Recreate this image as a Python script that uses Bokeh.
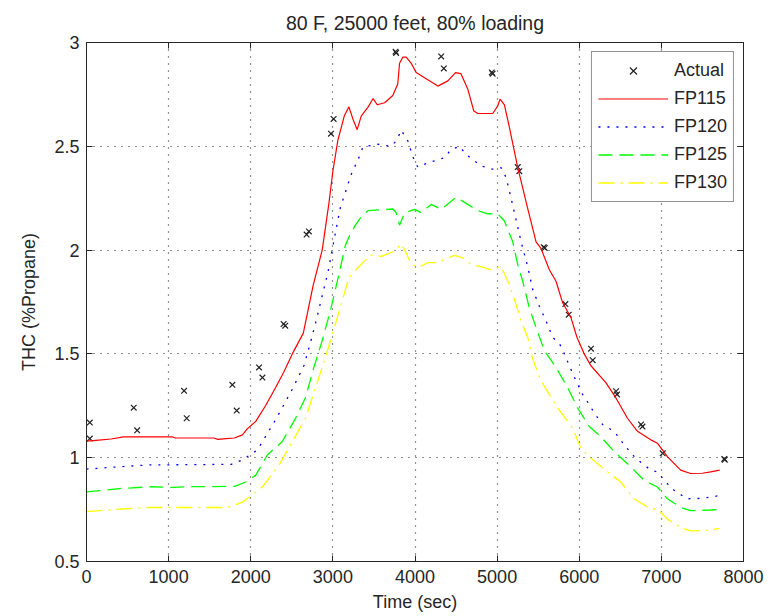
from bokeh.plotting import figure
from bokeh.models import LinearAxis, FixedTicker, Legend, LegendItem
from bokeh.embed import file_html
from bokeh.resources import INLINE

title_text = "80 F, 25000 feet, 80% loading"
x_label = "Time (sec)"
y_label = "THC (%Propane)"
x_ticks = [0, 1000, 2000, 3000, 4000, 5000, 6000, 7000, 8000]
y_ticks = [0.5, 1, 1.5, 2, 2.5, 3]
y_tick_labels = ["0.5", "1", "1.5", "2", "2.5", "3"]

act_t = [40, 40, 575, 617, 1188, 1220, 1776, 1829, 2101, 2142, 2400, 2420, 2680, 2708,
         2977, 3009, 3763, 3770, 4319, 4351, 4935, 4945, 5251, 5270, 5567, 5580,
         5831, 5872, 6143, 6164, 6448, 6460, 6752, 6770, 7016, 7766, 7772]
act_v = [1.169, 1.092, 1.241, 1.132, 1.322, 1.19, 1.351, 1.227, 1.435, 1.386, 1.644, 1.636,
         2.075, 2.09, 2.561, 2.632, 2.956, 2.95, 2.933, 2.875, 2.856, 2.85, 2.40, 2.38,
         2.014, 2.01, 1.74, 1.689, 1.525, 1.47, 1.32, 1.305, 1.16, 1.15, 1.021, 0.994, 0.99]

t115 = [0, 150, 300, 450, 1050, 1080, 1550, 1600, 1700, 1800, 1899, 1960, 2061, 2180, 2303,
        2400, 2506, 2640, 2760, 2870, 2950, 3000, 3061, 3142, 3195, 3245, 3296, 3345, 3430,
        3490, 3540, 3630, 3730, 3790, 3812, 3853, 3893, 3954, 4015, 4116, 4278, 4400, 4493,
        4560, 4643, 4716, 4765, 4947, 5008, 5036, 5089, 5150, 5250, 5360, 5474, 5534, 5636,
        5717, 5798, 5899, 5972, 6061, 6142, 6324, 6445, 6587, 6709, 6871, 6952, 7073, 7235,
        7356, 7500, 7600, 7710]
v115 = [1.08, 1.085, 1.09, 1.10, 1.10, 1.095, 1.095, 1.088, 1.092, 1.095, 1.11, 1.14, 1.175,
        1.25, 1.338, 1.41, 1.50, 1.60, 1.83, 2.00, 2.22, 2.38, 2.53, 2.65, 2.69, 2.63, 2.58,
        2.645, 2.69, 2.73, 2.70, 2.71, 2.745, 2.80, 2.90, 2.93, 2.93, 2.90, 2.855, 2.83, 2.79,
        2.815, 2.855, 2.85, 2.775, 2.67, 2.658, 2.658, 2.695, 2.727, 2.70, 2.59, 2.40, 2.22,
        2.04, 2.008, 1.905, 1.85, 1.746, 1.675, 1.58, 1.50, 1.443, 1.362, 1.289, 1.19, 1.127,
        1.086, 1.07, 1.005, 0.94, 0.924, 0.925, 0.932, 0.94]

t120 = [0, 425, 750, 1764, 1899, 2081, 2303, 2506, 2647, 2728, 2797, 2870, 2942, 2991, 3044,
        3092, 3224, 3325, 3366, 3548, 3710, 3780, 3832, 3913, 3973, 4034, 4156, 4359, 4440,
        4542, 4623, 4805, 4947, 5049, 5109, 5170, 5292, 5373, 5433, 5514, 5595, 5676, 5757,
        5798, 5879, 5960, 6041, 6122, 6182, 6284, 6425, 6547, 6688, 6871, 6952, 7053, 7154,
        7316, 7482, 7705]
v120 = [0.945, 0.957, 0.965, 0.968, 0.99, 1.037, 1.183, 1.33, 1.443, 1.556, 1.66, 1.78, 1.897,
        2.0, 2.11, 2.206, 2.365, 2.453, 2.497, 2.51, 2.50, 2.53, 2.578, 2.526, 2.45, 2.40,
        2.42, 2.445, 2.485, 2.50, 2.46, 2.405, 2.39, 2.397, 2.35, 2.25, 2.04, 1.92, 1.81, 1.73,
        1.66, 1.58, 1.55, 1.52, 1.443, 1.37, 1.305, 1.256, 1.216, 1.16, 1.127, 1.062, 0.997,
        0.94, 0.932, 0.883, 0.843, 0.802, 0.804, 0.817]

t125 = [0, 101, 425, 791, 1055, 1200, 1805, 1939, 2061, 2202, 2384, 2546, 2667, 2769, 2870,
        2971, 3072, 3153, 3204, 3274, 3345, 3427, 3589, 3731, 3771, 3812, 3873, 3994, 4075,
        4197, 4319, 4501, 4603, 4765, 4886, 5008, 5089, 5190, 5251, 5312, 5393, 5474, 5575,
        5717, 5858, 5980, 6122, 6263, 6425, 6607, 6790, 6952, 7073, 7235, 7356, 7603, 7705]
v125 = [0.835, 0.839, 0.852, 0.86, 0.857, 0.86, 0.862, 0.883, 0.916, 1.013, 1.078, 1.19, 1.29,
        1.435, 1.564, 1.71, 1.88, 2.024, 2.07, 2.12, 2.16, 2.19, 2.195, 2.198, 2.18, 2.12, 2.18,
        2.196, 2.18, 2.22, 2.196, 2.255, 2.23, 2.19, 2.175, 2.175, 2.14, 2.04, 1.93, 1.85, 1.72,
        1.627, 1.516, 1.435, 1.338, 1.24, 1.15, 1.10, 1.03, 0.964, 0.891, 0.859, 0.802, 0.761,
        0.745, 0.748, 0.751]

t130 = [0, 425, 750, 1724, 1899, 2142, 2344, 2506, 2667, 2789, 2910, 3011, 3112, 3193, 3315,
        3456, 3589, 3751, 3832, 3893, 3954, 4055, 4156, 4278, 4400, 4481, 4600, 4684, 4800,
        4927, 5049, 5150, 5231, 5292, 5373, 5433, 5534, 5737, 5919, 6020, 6142, 6344, 6506,
        6668, 6871, 6952, 7073, 7235, 7356, 7564, 7705]
v130 = [0.74, 0.753, 0.76, 0.76, 0.786, 0.859, 0.964, 1.078, 1.19, 1.338, 1.484, 1.617, 1.754,
        1.865, 1.92, 1.976, 1.97, 1.995, 2.03, 1.986, 1.93, 1.92, 1.94, 1.94, 1.962, 1.975,
        1.96, 1.93, 1.92, 1.905, 1.92, 1.833, 1.738, 1.657, 1.58, 1.476, 1.37, 1.24, 1.143,
        1.045, 0.997, 0.932, 0.883, 0.802, 0.753, 0.753, 0.704, 0.664, 0.648, 0.65, 0.66]

FONT = "Liberation Sans"
FS = "18px"
INK = "#262626"

p = figure(width=781, height=616, x_range=(0, 8000), y_range=(0.5, 3),
           output_backend="svg", toolbar_location=None,
           min_border_left=86, min_border_right=38, min_border_top=42, min_border_bottom=55)
p.background_fill_color = "white"
p.border_fill_color = "white"
p.outline_line_color = INK

p.title.text = title_text
p.title.align = "center"
p.title.text_font = FONT
p.title.text_font_size = "19.5px"
p.title.text_font_style = "normal"
p.title.text_color = INK
p.title.standoff = 17

for ax in [p.xaxis[0], p.yaxis[0]]:
    ax.major_tick_in = 6
    ax.major_tick_out = 0
    ax.minor_tick_line_color = None
    ax.axis_line_color = INK
    ax.major_tick_line_color = INK
    ax.major_label_text_font = FONT
    ax.major_label_text_font_size = FS
    ax.major_label_text_color = INK
    ax.axis_label_text_font = FONT
    ax.axis_label_text_font_size = FS
    ax.axis_label_text_font_style = "normal"
    ax.axis_label_text_color = INK

p.xaxis[0].ticker = FixedTicker(ticks=x_ticks)
p.yaxis[0].ticker = FixedTicker(ticks=y_ticks)
p.xaxis[0].major_label_overrides = {t: str(t) for t in x_ticks}
p.yaxis[0].major_label_overrides = dict(zip(y_ticks, y_tick_labels))
p.xaxis[0].axis_label = x_label
p.yaxis[0].axis_label = y_label
p.xaxis[0].major_label_standoff = 8
p.xaxis[0].axis_label_standoff = 6
p.yaxis[0].major_label_standoff = 7
p.yaxis[0].axis_label_standoff = 12

top_ax = LinearAxis(ticker=FixedTicker(ticks=x_ticks), major_tick_in=6, major_tick_out=0,
                    minor_tick_line_color=None, axis_line_color=INK, major_tick_line_color=INK,
                    major_label_text_color=None, major_label_text_alpha=0,
                    major_label_text_font_size="1px", major_label_standoff=0)
right_ax = LinearAxis(ticker=FixedTicker(ticks=y_ticks), major_tick_in=6, major_tick_out=0,
                      minor_tick_line_color=None, axis_line_color=INK, major_tick_line_color=INK,
                      major_label_text_color=None, major_label_text_alpha=0,
                      major_label_text_font_size="1px", major_label_standoff=0)
p.add_layout(top_ax, "above")
p.add_layout(right_ax, "right")

for g, ticks in ((p.xgrid[0], x_ticks), (p.ygrid[0], y_ticks)):
    g.ticker = FixedTicker(ticks=ticks)
    g.grid_line_color = "black"
    g.grid_line_dash = "1 6"
    g.grid_line_width = 1.2
    g.grid_line_alpha = 0.85

r_act = p.scatter(act_t, act_v, marker="x", size=8, line_color="#222222", line_width=1.2)
r115 = p.line(t115, v115, line_color="#ff0000", line_width=1.2)
r120 = p.line(t120, v120, line_color="#0000ff", line_width=1.3, line_dash="2 7")
r125 = p.line(t125, v125, line_color="#00ff00", line_width=1.3, line_dash="14 7")
r130 = p.line(t130, v130, line_color="#ffff00", line_width=1.3, line_dash="16 6 2 6")

legend = Legend(items=[
    LegendItem(label="Actual", renderers=[r_act]),
    LegendItem(label="FP115", renderers=[r115]),
    LegendItem(label="FP120", renderers=[r120]),
    LegendItem(label="FP125", renderers=[r125]),
    LegendItem(label="FP130", renderers=[r130]),
], location="top_right")
legend.label_text_font = FONT
legend.label_text_font_size = FS
legend.label_text_color = INK
legend.glyph_width = 70
legend.glyph_height = 25
legend.label_height = 25
legend.label_standoff = 6
legend.spacing = 3
legend.padding = 6
legend.margin = 9
legend.border_line_color = INK
legend.border_line_width = 1
legend.background_fill_alpha = 1
p.add_layout(legend, "center")

open("out.html", "w").write(file_html(p, INLINE))
